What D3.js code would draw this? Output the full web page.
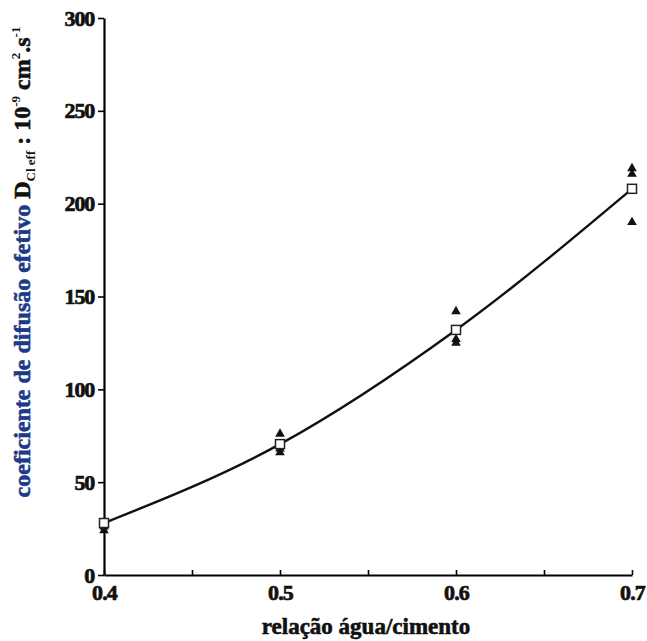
<!DOCTYPE html>
<html>
<head>
<meta charset="utf-8">
<script src="https://cdn.jsdelivr.net/npm/d3@7"></script>
<style>
  body { margin: 0; background: #fff; }
  svg text { font-family: "Liberation Serif", "Times New Roman", serif; font-weight: bold; }
</style>
</head>
<body>
<svg id="chart" width="647" height="641"></svg>
<script>
// relação água/cimento
const ratios = [0.4, 0.5, 0.6, 0.7];
// mean values (open squares), 10^-9 cm2/s
const meanValues = [28, 70.5, 132, 208];
// individual measurements (filled triangles)
const sampleRatios = [0.4, 0.4, 0.5, 0.5, 0.5, 0.6, 0.6, 0.6, 0.7, 0.7, 0.7];
const sampleValues = [26, 24, 76, 68, 66, 142, 127, 125, 219, 216, 190];
const xTicks = [0.4, 0.45, 0.5, 0.55, 0.6, 0.65, 0.7];
const xLabels = [0.4, 0.5, 0.6, 0.7];
const yTicks = [0, 50, 100, 150, 200, 250, 300];

const svg = d3.select("#chart");

const x = d3.scaleLinear().domain([0.4, 0.7]).range([104, 632]);
const y = d3.scaleLinear().domain([0, 300]).range([575, 18]);

// y axis
const yAxis = svg.append("g")
  .attr("transform", "translate(104,0)")
  .call(d3.axisLeft(y).tickValues(yTicks).tickSize(6).tickSizeOuter(0).tickPadding(4));
yAxis.select(".domain").attr("stroke-width", 2.2);
yAxis.selectAll(".tick line").attr("stroke-width", 1.6);
yAxis.selectAll("text")
  .attr("font-size", 22).attr("fill", "#111")
  .attr("stroke", "#111").attr("stroke-width", 0.7)
  .attr("letter-spacing", -1.2);

// x axis, ticks pointing up
const xAxis = svg.append("g")
  .attr("transform", "translate(0,575)")
  .call(d3.axisBottom(x).tickValues(xTicks).tickSize(-5).tickSizeOuter(0).tickPadding(9)
    .tickFormat(d => xLabels.some(v => Math.abs(v - d) < 1e-9) ? d.toFixed(1) : ""));
xAxis.select(".domain").attr("stroke-width", 2.2);
xAxis.selectAll(".tick line").attr("stroke-width", 1.6);
xAxis.selectAll("text")
  .attr("font-size", 22).attr("fill", "#111")
  .attr("stroke", "#111").attr("stroke-width", 0.7)
  .attr("letter-spacing", -0.8);

// curve through mean values
const line = d3.line()
  .x((d, i) => x(ratios[i]))
  .y(d => y(d))
  .curve(d3.curveMonotoneX);

svg.append("path")
  .datum(meanValues)
  .attr("d", line)
  .attr("fill", "none")
  .attr("stroke", "#111")
  .attr("stroke-width", 2.4);

// measured points
svg.selectAll(".sample")
  .data(sampleValues)
  .enter()
  .append("path")
  .attr("class", "sample")
  .attr("transform", (d, i) => `translate(${x(sampleRatios[i])},${y(d)})`)
  .attr("d", d3.symbol().type(d3.symbolTriangle).size(40))
  .attr("fill", "#111");

// mean markers
svg.selectAll(".mean")
  .data(meanValues)
  .enter()
  .append("rect")
  .attr("class", "mean")
  .attr("x", (d, i) => x(ratios[i]) - 4.5)
  .attr("y", d => y(d) - 4.5)
  .attr("width", 9)
  .attr("height", 9)
  .attr("fill", "#fff")
  .attr("stroke", "#222")
  .attr("stroke-width", 1.5);

// x title
svg.append("text")
  .attr("x", 366)
  .attr("y", 634)
  .attr("text-anchor", "middle")
  .attr("font-size", 23)
  .attr("fill", "#111")
  .attr("stroke", "#111").attr("stroke-width", 0.6)
  .text("relação água/cimento");

// y title
const yt = svg.append("text")
  .attr("transform", "translate(30,262) rotate(-90)")
  .attr("text-anchor", "middle")
  .attr("font-size", 24)
  .attr("stroke-width", 0.6);
yt.append("tspan").attr("fill", "#1d3a8a").attr("stroke", "#1d3a8a").text("coeficiente de difusão efetivo  ");
yt.append("tspan").attr("fill", "#111").attr("stroke", "#111").text("D");
yt.append("tspan").attr("fill", "#111").attr("font-size", 13).attr("dy", 5).text("Cl eff");
yt.append("tspan").attr("fill", "#111").attr("stroke", "#111").attr("dy", -5).text(" : 10");
yt.append("tspan").attr("fill", "#111").attr("font-size", 13).attr("dy", -10).text("-9");
yt.append("tspan").attr("fill", "#111").attr("stroke", "#111").attr("dy", 10).text(" cm");
yt.append("tspan").attr("fill", "#111").attr("font-size", 13).attr("dy", -10).text("2");
yt.append("tspan").attr("fill", "#111").attr("stroke", "#111").attr("dy", 10).text(".s");
yt.append("tspan").attr("fill", "#111").attr("font-size", 13).attr("dy", -10).text("-1");
</script>
</body>
</html>
